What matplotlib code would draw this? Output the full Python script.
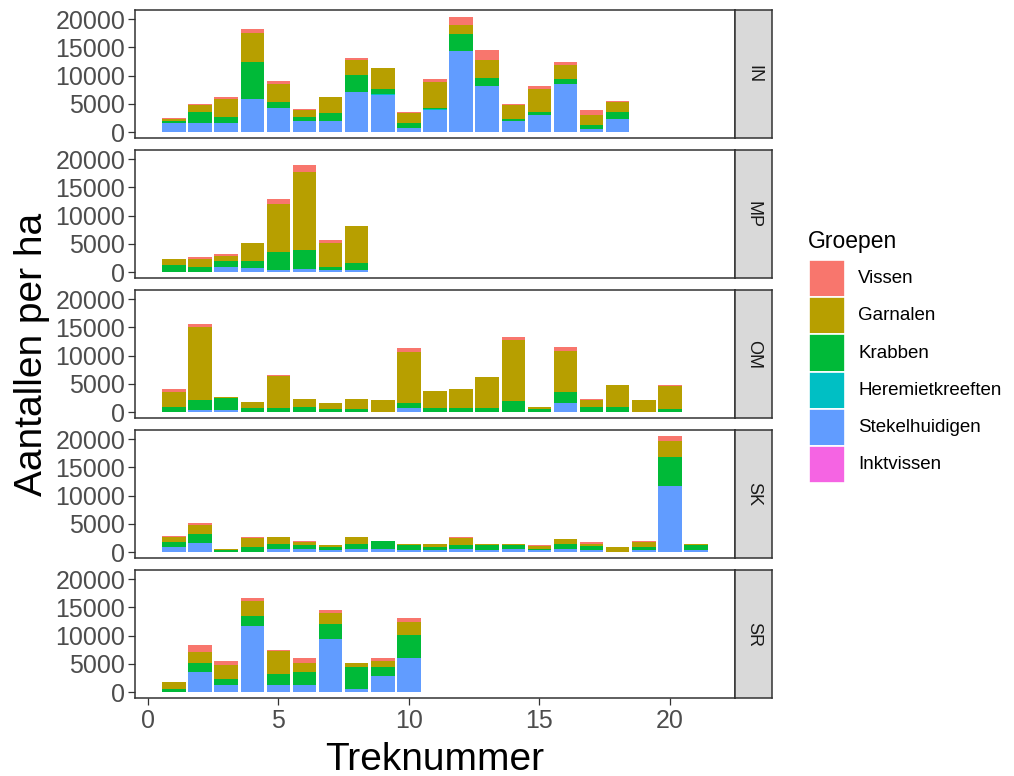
import matplotlib
matplotlib.use('Agg')
import matplotlib.pyplot as plt
from matplotlib.patches import Rectangle
import numpy as np

plt.rcParams['font.family'] = ['Liberation Sans', 'DejaVu Sans']

# ---------------- data ----------------
groups = ['Vissen', 'Garnalen', 'Krabben', 'Heremietkreeften', 'Stekelhuidigen', 'Inktvissen']
colors = ['#F8766D', '#B79F00', '#00BA38', '#00BFC4', '#619CFF', '#F564E3']
facets = ['IN', 'MP', 'OM', 'SK', 'SR']

IN_trek = list(range(1, 19))
IN_stekel = [1650, 1650, 1650, 5900, 4200, 1900, 1900, 7100, 6600, 700, 3900, 14300, 8200, 1950, 3050, 8500, 650, 2400]
IN_heremiet = [0, 0, 0, 0, 0, 0, 0, 0, 100, 0, 150, 0, 0, 0, 0, 0, 0, 0]
IN_krab = [290, 2000, 1110, 6600, 1100, 860, 1450, 3100, 900, 950, 300, 3000, 1450, 300, 600, 850, 650, 1200]
IN_garn = [410, 1150, 3140, 5100, 3200, 1140, 2850, 2600, 3700, 1750, 4560, 1700, 3150, 2650, 4000, 2550, 1750, 1750]
IN_vis = [120, 200, 300, 600, 500, 200, 50, 400, 100, 200, 540, 1400, 1700, 100, 550, 500, 850, 250]
IN_inkt = [0] * 18

MP_trek = list(range(1, 9))
MP_stekel = [0, 100, 850, 750, 450, 500, 300, 450]
MP_heremiet = [0, 0, 0, 0, 0, 0, 0, 0]
MP_krab = [1200, 800, 1150, 1250, 3050, 3500, 600, 1250]
MP_garn = [1100, 1500, 900, 3200, 8500, 13800, 4300, 6400]
MP_vis = [0, 200, 300, 0, 1000, 1100, 500, 0]
MP_inkt = [0] * 8

OM_trek = list(range(1, 21))
OM_stekel = [0, 400, 400, 0, 0, 0, 0, 0, 0, 700, 0, 0, 0, 0, 0, 1600, 0, 0, 0, 0]
OM_heremiet = [0] * 20
OM_krab = [1000, 1800, 2100, 700, 700, 1000, 500, 500, 50, 900, 700, 700, 700, 1900, 500, 2000, 1000, 1000, 0, 500]
OM_garn = [2600, 12900, 200, 1100, 5650, 1350, 1100, 1850, 2050, 9100, 3100, 3400, 5500, 10900, 500, 7200, 1100, 3800, 2200, 4100]
OM_vis = [500, 500, 0, 0, 150, 0, 0, 0, 0, 600, 0, 0, 0, 500, 0, 800, 300, 0, 0, 200]
OM_inkt = [0] * 20

SK_trek = list(range(1, 22))
SK_stekel = [900, 1700, 0, 100, 600, 600, 300, 600, 600, 300, 300, 500, 300, 500, 300, 600, 300, 0, 300, 11800, 300]
SK_heremiet = [0] * 21
SK_krab = [850, 1500, 300, 800, 900, 600, 700, 900, 1300, 1050, 600, 700, 1050, 850, 350, 900, 750, 0, 650, 5100, 1000]
SK_garn = [950, 1700, 300, 1600, 1100, 600, 200, 1100, 160, 150, 600, 1300, 150, 150, 400, 850, 450, 950, 800, 2800, 200]
SK_vis = [200, 300, 0, 100, 0, 260, 0, 0, 0, 0, 0, 150, 0, 0, 150, 0, 250, 0, 300, 900, 0]
SK_inkt = [0] * 21

SR_trek = list(range(1, 11))
SR_stekel = [0, 3500, 1200, 11800, 1200, 1200, 9500, 650, 2900, 6100]
SR_heremiet = [0] * 10
SR_krab = [600, 1700, 1150, 1700, 2000, 2300, 2600, 3750, 1500, 4000]
SR_garn = [1160, 2000, 2550, 2600, 4100, 1700, 2000, 800, 1100, 2300]
SR_vis = [0, 1150, 600, 500, 200, 860, 500, 0, 560, 800]
SR_inkt = [0] * 10

facet_data = {
    'IN': (IN_trek, IN_vis, IN_garn, IN_krab, IN_heremiet, IN_stekel, IN_inkt),
    'MP': (MP_trek, MP_vis, MP_garn, MP_krab, MP_heremiet, MP_stekel, MP_inkt),
    'OM': (OM_trek, OM_vis, OM_garn, OM_krab, OM_heremiet, OM_stekel, OM_inkt),
    'SK': (SK_trek, SK_vis, SK_garn, SK_krab, SK_heremiet, SK_stekel, SK_inkt),
    'SR': (SR_trek, SR_vis, SR_garn, SR_krab, SR_heremiet, SR_stekel, SR_inkt),
}

y_ticks = [0, 5000, 10000, 15000, 20000]
x_ticks = [0, 5, 10, 15, 20]

# ---------------- layout ----------------
W, H = 1014, 776
fig = plt.figure(figsize=(W / 100, H / 100), dpi=100)
fig.patch.set_facecolor('white')

# global y range (shared scales)
max_total = max(
    max(np.sum(np.array(v[1:]), axis=0)) for v in facet_data.values()
)
ymin, ymax = -0.05 * max_total, 1.05 * max_total
xmin, xmax = 0.55 - 0.05 * 20.9, 21.45 + 0.05 * 20.9

pl, pw, ph = 135, 600, 128
sw = 37
border_col = '#333333'
tick_col = '#4D4D4D'

for i, f in enumerate(facets):
    top = 10 + 140 * i
    ax = fig.add_axes([pl / W, 1 - (top + ph) / H, pw / W, ph / H])
    trek = facet_data[f][0]
    vals = facet_data[f][1:]
    # stack bottom -> top: reverse order of groups
    bottom = np.zeros(len(trek))
    for gi in range(len(groups) - 1, -1, -1):
        v = np.array(vals[gi], dtype=float)
        ax.bar(trek, v, bottom=bottom, width=0.9, color=colors[gi],
               edgecolor='none', linewidth=0)
        bottom += v
    ax.set_xlim(xmin, xmax)
    ax.set_ylim(ymin, ymax)
    ax.set_yticks(y_ticks)
    ax.set_yticklabels([str(t) for t in y_ticks], fontsize=18, color=tick_col)
    ax.set_xticks(x_ticks)
    if i == len(facets) - 1:
        ax.set_xticklabels([str(t) for t in x_ticks], fontsize=18, color=tick_col)
        ax.tick_params(axis='x', length=5, width=0.9, color=border_col, pad=3)
    else:
        ax.tick_params(axis='x', length=0, labelbottom=False)
    ax.tick_params(axis='y', length=5, width=0.9, color=border_col, pad=2)
    for s in ax.spines.values():
        s.set_color(border_col)
        s.set_linewidth(1.1)
    ax.set_facecolor('white')

    # strip
    sax = fig.add_axes([(pl + pw) / W, 1 - (top + ph) / H, sw / W, ph / H])
    sax.set_facecolor('#D9D9D9')
    sax.set_xticks([])
    sax.set_yticks([])
    for s in sax.spines.values():
        s.set_color(border_col)
        s.set_linewidth(1.1)
    sax.text(0.5, 0.5, f, rotation=-90, ha='center', va='center',
             fontsize=13, color='#1A1A1A', transform=sax.transAxes)

# overlay axes in pixel coordinates for titles and legend
oax = fig.add_axes([0, 0, 1, 1], facecolor='none')
oax.set_xlim(0, W)
oax.set_ylim(H, 0)
oax.axis('off')

oax.text(pl + pw / 2, 770, 'Treknummer', fontsize=28, ha='center', va='baseline', color='black')
oax.text(32, 10 + (4 * 140 + ph) / 2, 'Aantallen per ha', fontsize=28, rotation=90,
         ha='center', va='center', color='black')

# legend
oax.text(808, 248, 'Groepen', fontsize=16.5, ha='left', va='baseline', color='black')
key_top, key_h, key_x, key_w = 260, 37.2, 809, 36
for gi, g in enumerate(groups):
    y0 = key_top + gi * key_h
    oax.add_patch(Rectangle((key_x, y0), key_w, key_h, facecolor=colors[gi],
                            edgecolor='white', linewidth=1.2))
    oax.text(858, y0 + key_h / 2, g, fontsize=13.5, ha='left', va='center', color='black')

fig.savefig('out.png', dpi=100, facecolor='white')
